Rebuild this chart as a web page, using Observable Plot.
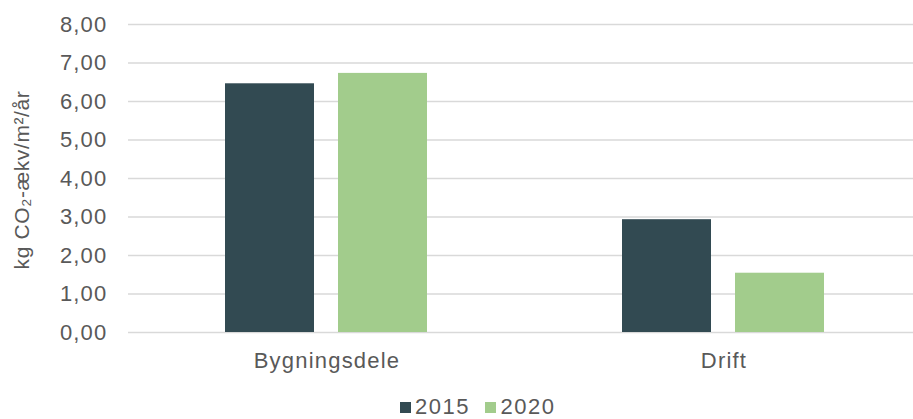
<!DOCTYPE html>
<html>
<head>
<meta charset="utf-8">
<script src="https://cdn.jsdelivr.net/npm/d3@7"></script>
<script src="https://cdn.jsdelivr.net/npm/@observablehq/plot@0.6"></script>
<style>
  body { margin: 0; background: white; font-family: "Liberation Sans", Arial, sans-serif; }
  #wrap { position: relative; width: 913px; height: 419px; overflow: hidden; }
  #legend { position: absolute; left: 400px; top: 396px; display: flex; align-items: center; font-size: 22px; letter-spacing: 1.5px; color: #595959; line-height: 1; }
  #legend .sw { width: 11px; height: 11px; display: inline-block; margin-right: 4px; }
  #legend .item { display: flex; align-items: center; margin-right: 15.5px; }
</style>
</head>
<body>
<div id="wrap"><div id="chart"></div><div id="legend"></div></div>
<script>
const categories = ["Bygningsdele", "Drift"];
const years = ["2015", "2020"];
const values2015 = [6.46, 2.93];
const values2020 = [6.73, 1.54];
const yTicks = [0, 1, 2, 3, 4, 5, 6, 7, 8];
const yLabel = "kg CO₂-ækv/m²/år";
const colors = ["#324a52", "#a2cc8c"];

const data = [];
categories.forEach((c, i) => {
  data.push({category: c, year: years[0], value: values2015[i]});
  data.push({category: c, year: years[1], value: values2020[i]});
});

const fmt = d => d.toFixed(2).replace(".", ",");

const chart = Plot.plot({
  width: 913,
  height: 380,
  marginTop: 24,
  marginBottom: 48,
  marginLeft: 128,
  marginRight: 0,
  style: {fontSize: "22px", letterSpacing: "1.2px", fontFamily: "Liberation Sans, Arial, sans-serif", color: "#595959", background: "white"},
  fx: {domain: categories, range: [128, 922], padding: 0, label: null, tickSize: 0, tickPadding: 20},
  x: {domain: years, axis: null, paddingInner: 0.212, paddingOuter: 0.8626},
  y: {domain: [0, 8], ticks: yTicks, tickFormat: fmt, tickSize: 0, tickPadding: 21, label: null},
  color: {domain: years, range: colors},
  marks: [
    Plot.ruleY(yTicks, {stroke: "#d9d9d9", strokeWidth: 1.3, strokeOpacity: 1}),
    Plot.barY(data, {fx: "category", x: "year", y: "value", fill: "year"})
  ]
});

// y-axis title, centred on the plot area's vertical extent
d3.select(chart)
  .append("text")
  .attr("transform", "translate(29,180) rotate(-90)")
  .attr("text-anchor", "middle")
  .attr("fill", "#595959")
  .style("font-size", "21px")
  .style("letter-spacing", "0.6px")
  .text(yLabel);

document.getElementById("chart").appendChild(chart);

const legend = document.getElementById("legend");
years.forEach((y, i) => {
  const it = document.createElement("span");
  it.className = "item";
  const sw = document.createElement("span");
  sw.className = "sw";
  sw.style.background = colors[i];
  const t = document.createElement("span");
  t.textContent = y;
  it.appendChild(sw); it.appendChild(t);
  legend.appendChild(it);
});
</script>
</body>
</html>
